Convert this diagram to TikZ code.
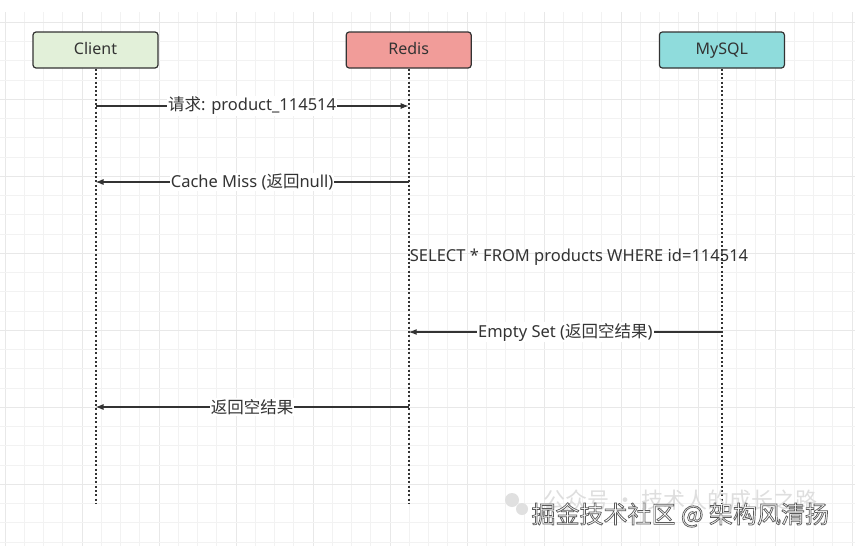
\documentclass[tikz,border=0pt]{standalone}
\usepackage{fontspec}
\setmainfont{Noto Sans}
\newfontfamily\cjk{Noto Sans CJK SC}
\usepackage{tikz}
\usetikzlibrary{positioning,arrows.meta,calc}
\definecolor{clientfill}{HTML}{E2F0D9}
\definecolor{redisfill}{HTML}{F19C99}
\definecolor{mysqlfill}{HTML}{8FDCDC}
\definecolor{ink}{HTML}{333333}
\newcommand{\outlined}[1]{\special{pdf:literal direct 0.35 G 2 Tr 0.7 w}#1\special{pdf:literal direct 0 Tr}}
\tikzset{
    gridminor/.style={draw=black!5, line width=0.8pt},
    gridmajor/.style={draw=black!9, line width=1pt}
}

\begin{document}
\begin{tikzpicture}[x=1pt, y=-1pt, node distance=187pt,
    actor/.style={draw=ink, rounded corners=3pt, line width=1.2pt, minimum width=125pt, minimum height=36pt, font=\fontsize{16}{19}\selectfont, text=ink, text height=11.5pt, text depth=2pt},
    lifeline/.style={ink, line width=2pt, dash pattern=on 2pt off 2.3pt},
    msg/.style={-{Latex[length=8pt,width=6pt]}, ink, line width=1.1pt},
    msglabel/.style={fill=white, inner sep=1pt, text=ink, font=\fontsize{16.5}{19}\selectfont},
    wmark/.style={font=\cjk\fontsize{24}{26}\selectfont, anchor=west}]

\useasboundingbox (0,0) rectangle (855,546);
\fill[white] (0,0) rectangle (855,546);

% background grid
\foreach \i in {0,...,44} {
    \pgfmathtruncatemacro{\m}{mod(\i,4)}
    \ifnum\m=0 \draw[gridmajor] ({5+19.25*\i},12) -- ({5+19.25*\i},546);
    \else \draw[gridminor] ({5+19.25*\i},12) -- ({5+19.25*\i},546); \fi
}
\foreach \j in {1,...,28} {
    \pgfmathtruncatemacro{\m}{mod(\j+3,4)}
    \ifnum\m=0 \draw[gridmajor] (0,{3+19.25*\j}) -- (855,{3+19.25*\j});
    \else \draw[gridminor] (0,{3+19.25*\j}) -- (855,{3+19.25*\j}); \fi
}

\node [actor, fill=clientfill] (client) at (95.5,50) {Client};
\node [actor, fill=redisfill, right=of client] (redis) {Redis};
\node [actor, fill=mysqlfill, right=of redis] (mysql) {MySQL};

% lifelines
\foreach \n in {client,redis,mysql} {
    \coordinate (\n-end) at (\n.south |- 0,503);
    \draw [lifeline] (\n.south) -- (\n-end);
}

\coordinate (c1) at (client |- 0,106);
\coordinate (r1) at (redis |- 0,106);
\coordinate (c2) at (client |- 0,182);
\coordinate (r2) at (redis |- 0,182);
\coordinate (r3) at (redis |- 0,257);
\coordinate (r4) at (redis |- 0,332);
\coordinate (m4) at (mysql |- 0,332);
\coordinate (c5) at (client |- 0,407);
\coordinate (r5) at (redis |- 0,407);

\draw [msg] (c1) -- node[msglabel] {{\cjk 请求}: product\_114514} (r1);
\draw [msg] (r2) -- node[msglabel] {Cache Miss ({\cjk 返回}null)} (c2);
\node [msglabel, anchor=west, fill=none] (query) at (r3) {SELECT * FROM products WHERE id=114514};
\draw [msg] (m4) -- node[msglabel] {Empty Set ({\cjk 返回空结果})} (r4);
\draw [msg] (r5) -- node[msglabel] {\cjk 返回空结果} (c5);

% watermark
\fill [black!12] (512,500) circle (7pt);
\fill [black!12] (522,509) circle (6pt);
\node [wmark, text=black!13, font=\cjk\fontsize{22}{24}\selectfont] (wm1) at (540,500) {公众号 · 技术人的成长之路};
\node [wmark, text=white] (wm2) at (528,515) {\outlined{掘金技术社区 @ 架构风清扬}};

\end{tikzpicture}
\end{document}
